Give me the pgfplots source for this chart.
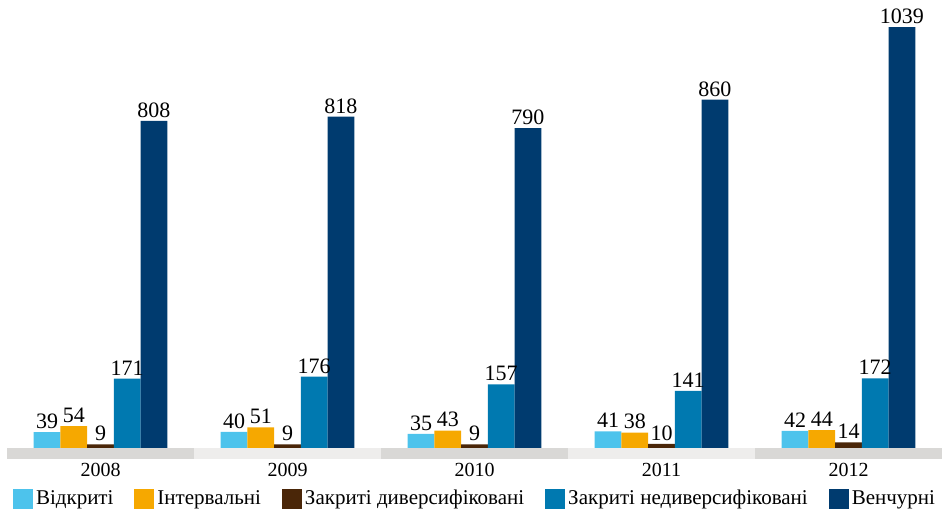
\documentclass[border=0pt]{standalone}
\usepackage{fontspec}
\setmainfont{Liberation Serif}
\usepackage{pgfplots}
\pgfplotsset{compat=1.18}
\definecolor{cA}{RGB}{77,195,236}
\definecolor{cB}{RGB}{246,168,0}
\definecolor{cC}{RGB}{74,38,8}
\definecolor{cD}{RGB}{0,121,176}
\definecolor{cE}{RGB}{0,59,111}
\definecolor{gD}{RGB}{217,216,214}
\definecolor{gL}{RGB}{238,237,236}
\begin{document}
\begin{tikzpicture}
\useasboundingbox (0,0) rectangle (471pt,259pt);
\begin{axis}[
  at={(3.5pt,29.5pt)}, anchor=south west,
  scale only axis, width=467.5pt, height=229.5pt,
  xmin=-0.5, xmax=4.5, ymin=-27.2, ymax=1106.2,
  ybar, bar width=0.1428,
  axis line style={draw=none}, tick style={draw=none}, major tick length=0pt,
  ytick=\empty,
  xtick={0,1,2,3,4}, xticklabels={2008,2009,2010,2011,2012},
  xticklabel style={font=\fontsize{10}{12}\selectfont, inner sep=2pt},
  /pgf/number format/assume math mode=true,
  /pgf/number format/1000 sep={},
  nodes near coords,
  every node near coord/.append style={font=\fontsize{11}{13}\selectfont, inner sep=1.5pt, black},
  legend columns=5,
  legend style={at={(0.5,-0.087)}, anchor=center, draw=none, fill=none,
    font=\fontsize{10.5}{12}\selectfont,
    nodes={inner sep=0.5pt, anchor=west},
    /tikz/every odd column/.append style={column sep=1pt},
    /tikz/every even column/.append style={column sep=10pt}},
  legend image code/.code={\fill[#1] (0pt,-5pt) rectangle (10pt,5pt);},
]
\fill[gD] (axis cs:-0.5,-27.2) rectangle (axis cs:0.5,0);
\fill[gL] (axis cs:0.5,-27.2) rectangle (axis cs:1.5,0);
\fill[gD] (axis cs:1.5,-27.2) rectangle (axis cs:2.5,0);
\fill[gL] (axis cs:2.5,-27.2) rectangle (axis cs:3.5,0);
\fill[gD] (axis cs:3.5,-27.2) rectangle (axis cs:4.5,0);
\addplot[fill=cA, draw=none, bar shift=-0.2856] coordinates {(0,39) (1,40) (2,35) (3,41) (4,42)};
\addlegendentry{Відкриті}
\addplot[fill=cB, draw=none, bar shift=-0.1428] coordinates {(0,54) (1,51) (2,43) (3,38) (4,44)};
\addlegendentry{Інтервальні}
\addplot[fill=cC, draw=none, bar shift=0] coordinates {(0,9) (1,9) (2,9) (3,10) (4,14)};
\addlegendentry{Закриті диверсифіковані}
\addplot[fill=cD, draw=none, bar shift=0.1428] coordinates {(0,171) (1,176) (2,157) (3,141) (4,172)};
\addlegendentry{Закриті недиверсифіковані}
\addplot[fill=cE, draw=none, bar shift=0.2856] coordinates {(0,808) (1,818) (2,790) (3,860) (4,1039)};
\addlegendentry{Венчурні}
\end{axis}
\end{tikzpicture}
\end{document}
